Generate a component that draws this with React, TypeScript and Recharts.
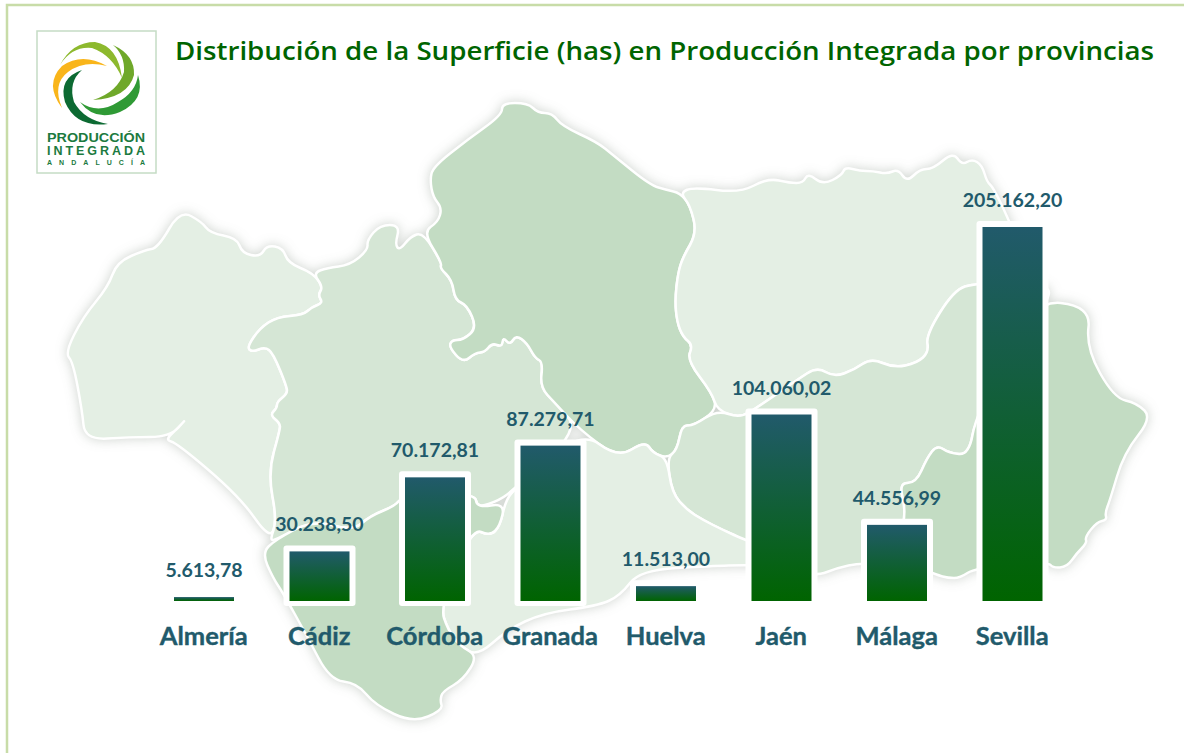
import { Bar, BarChart, LabelList, XAxis, YAxis } from "recharts";

const provincias = ["Almería", "Cádiz", "Córdoba", "Granada", "Huelva", "Jaén", "Málaga", "Sevilla"];
const superficie = [5613.78, 30238.5, 70172.81, 87279.71, 11513.0, 104060.02, 44556.99, 205162.2];
const titulo = "Distribución de la Superficie (has) en Producción Integrada por provincias";

const chartData = provincias.map((provincia, i) => ({ provincia, superficie: superficie[i] }));

// silhouette of the provinces, backdrop only
const mapaProvincias = [
  {
    fill: "#e4efe4",
    pts: "180,210 202,222 210,233 237,238 242,253 260,257 267,245 283,248 288,263 313,273 323,287 318,295 323,303 312,307 303,315 277,317 260,328 247,347 252,352 265,347 273,353 287,387 287,394 277,402 277,408 270,415 280,423 280,430 268,473 277,520 270,540 240,497 177,443 165,440 178,428 187,418 170,437 130,437 85,440 82,410 73,362 65,353 83,317 108,287 117,262 145,250 158,248",
  },
  {
    fill: "#d5e6d5",
    pts: "313,273 327,268 350,265 368,250 367,240 380,225 400,225 395,245 400,250 410,237 423,232 442,263 440,268 452,280 455,300 467,305 477,328 463,340 452,340 449,347 463,363 475,353 485,352 492,343 502,347 503,337 510,345 516,335 527,343 535,358 543,362 540,387 555,403 580,430 513,490 500,500 477,508 475,493 403,496 395,506 370,516 353,531 313,520 275,540 270,540 277,520 268,473 280,430 280,423 270,415 277,408 277,402 287,394 287,387 273,353 265,347 252,352 247,347 260,328 277,317 303,315 312,307 323,303 318,295 323,287",
  },
  {
    fill: "#c3dcc3",
    pts: "502,103 528,103 538,113 552,113 562,126 597,142 613,155 650,185 667,190 680,193 690,205 697,233 683,257 678,273 675,300 677,322 683,337 693,345 687,360 712,393 717,410 693,426 682,425 677,450 667,458 653,453 645,441 618,458 580,430 555,403 540,387 543,362 535,358 527,343 516,335 510,345 503,337 502,347 492,343 485,352 475,353 463,363 449,347 452,340 463,340 477,328 467,305 455,300 452,280 440,268 442,263 423,232 438,222 442,208 433,197 430,180 433,167 467,140 502,115",
  },
  {
    fill: "#e4efe4",
    pts: "680,193 693,187 740,193 768,178 790,183 803,183 808,173 823,185 842,175 845,167 860,171 873,171 887,174 898,169 907,182 920,169 933,169 953,152 962,165 972,159 982,165 987,182 993,187 1008,218 1035,283 976,283 954,290 926,335 929,352 917,363 894,368 871,358 854,370 834,377 817,367 797,380 758,407 740,418 717,410 712,393 687,360 693,345 683,337 677,322 675,300 678,273 683,257 697,233 690,205",
  },
  {
    fill: "#d5e6d5",
    pts: "717,410 740,418 758,407 797,380 817,367 834,377 854,370 871,358 894,368 917,363 929,352 926,335 954,290 976,283 1049,283 1049,302 976,415 969,455 949,453 937,445 927,458 916,483 899,483 906,510 900,540 880,565 860,563 837,568 817,576 780,570 745,563 745,540 723,530 703,520 687,510 672,493 667,458 677,450 682,425 693,426",
  },
  {
    fill: "#c3dcc3",
    pts: "1030,300 1091,306 1086,348 1114,398 1137,403 1152,418 1124,453 1110,500 1105,513 1107,520 1097,522 1085,537 1087,543 1077,553 1067,567 1053,568 1048,562 975,568 960,578 948,578 937,575 900,560 880,565 900,540 906,510 899,483 916,483 927,458 937,445 949,453 969,455 976,415",
  },
  {
    fill: "#e4efe4",
    pts: "505,503 513,490 580,430 618,458 645,441 653,453 667,458 672,493 687,510 703,520 723,530 745,540 780,552 780,566 745,565 712,566 640,570 620,596 597,606 543,613 507,630 478,656 460,646 448,630 440,606 472,528 490,536 500,526",
  },
  {
    fill: "#c3dcc3",
    pts: "262,553 275,540 313,520 353,531 370,516 395,506 403,496 475,493 477,508 505,503 500,526 490,536 472,528 440,606 448,630 460,646 478,656 463,680 443,691 440,700 443,710 413,723 375,705 357,683 330,680 307,636 283,593 273,578",
  },
];

const logoArcos = [
  { fill: "#8db92e", d: "M60 65 Q72 42 95 42 Q118 46 122 78 Q112 55 92 48 Q72 46 60 65 Z" },
  { fill: "#6fa82a", d: "M113 45 Q135 55 134 75 Q128 98 93 100 Q118 92 124 72 Q125 55 113 45 Z" },
  { fill: "#2f9a35", d: "M138 75 Q146 100 120 112 Q95 122 80 102 Q98 115 118 102 Q136 92 138 75 Z" },
  { fill: "#0c6a32", d: "M82 70 Q58 78 65 102 Q76 128 108 124 Q84 120 74 102 Q68 82 82 70 Z" },
  { fill: "#f9b51a", d: "M107 66 Q82 52 62 66 Q44 84 62 108 Q52 84 68 72 Q84 60 107 66 Z" },
];

const formatHas = (v: number) =>
  v.toLocaleString("de-DE", { minimumFractionDigits: 2, maximumFractionDigits: 2 });

// rounds the outline by curving through the midpoints
function smoothPath(pts: string) {
  const p = pts.split(" ").map((s) => s.split(",").map(Number));
  const mid = (a: number[], b: number[]) => `${(a[0] + b[0]) / 2} ${(a[1] + b[1]) / 2}`;
  let d = `M${mid(p[p.length - 1], p[0])}`;
  p.forEach((pt, i) => {
    d += ` Q${pt[0]} ${pt[1]} ${mid(pt, p[(i + 1) % p.length])}`;
  });
  return d + " Z";
}

// bar with the white frame around it
function FramedBar({ x, y, width, height }: any) {
  return (
    <g>
      <rect x={x - 6} y={y - 6} width={width + 12} height={height + 11} rx={3} fill="#fff" />
      <rect x={x} y={y} width={width} height={height} fill="url(#barGrad)" />
    </g>
  );
}

function Backdrop() {
  return (
    <svg width={1184} height={753} style={{ position: "absolute", left: 0, top: 0 }}>
      <rect x={7} y={5} width={1190} height={760} fill="#fff" stroke="#c8dca8" strokeWidth={2.5} />
      <g style={{ filter: "drop-shadow(0 0 6px rgba(60,80,60,0.25))" }}>
        {mapaProvincias.map((p, i) => (
          <path key={i} d={smoothPath(p.pts)} fill={p.fill} stroke="#fff" strokeWidth={2.5} strokeLinejoin="round" />
        ))}
      </g>
      <rect x={37} y={31} width={119} height={142} fill="#fff" stroke="#c5dcc5" strokeWidth={1.5} />
      {logoArcos.map((a, i) => (
        <path key={i} d={a.d} fill={a.fill} />
      ))}
      <g fontFamily="Liberation Sans" fontWeight="bold" fill="#1c7a40">
        <text x={47} y={142} fontSize={12.5} textLength={98} lengthAdjust="spacingAndGlyphs">PRODUCCIÓN</text>
        <text x={47} y={155} fontSize={12.5} textLength={98}>INTEGRADA</text>
        <text x={47} y={165} fontSize={7} textLength={98}>ANDALUCÍA</text>
      </g>
      <text
        x={175}
        y={60}
        fontFamily="Open Sans"
        fontWeight={600}
        fontSize={25.5}
        fill="#006400"
        textLength={979}
        lengthAdjust="spacingAndGlyphs"
      >
        {titulo}
      </text>
    </svg>
  );
}

export default function App() {
  return (
    <div style={{ position: "absolute", left: 0, top: 0, width: 1184, height: 753, overflow: "hidden" }}>
      <Backdrop />
      <div style={{ position: "absolute", left: 0, top: 0 }}>
        <BarChart
          width={1184}
          height={753}
          data={chartData}
          margin={{ top: 227, right: 114, bottom: 122, left: 146 }}
        >
          <defs>
            <linearGradient id="barGrad" x1="0" y1="0" x2="0" y2="1">
              <stop offset="0%" stopColor="#215a6b" />
              <stop offset="100%" stopColor="#006400" />
            </linearGradient>
          </defs>
          <XAxis
            dataKey="provincia"
            interval={0}
            tickLine={false}
            axisLine={false}
            tickMargin={20}
            tick={{ fill: "#215a6b", stroke: "#215a6b", strokeWidth: 0.4, fontFamily: "Lato", fontWeight: 700, fontSize: 25.5 }}
          />
          <YAxis hide domain={[3500, 205162.2]} />
          <Bar dataKey="superficie" barSize={60} shape={FramedBar} isAnimationActive={false}>
            <LabelList
              dataKey="superficie"
              position="top"
              offset={20}
              formatter={formatHas}
              fill="#215a6b"
              fontFamily="Lato"
              fontWeight={700}
              fontSize={19.5}
            />
          </Bar>
        </BarChart>
      </div>
    </div>
  );
}
